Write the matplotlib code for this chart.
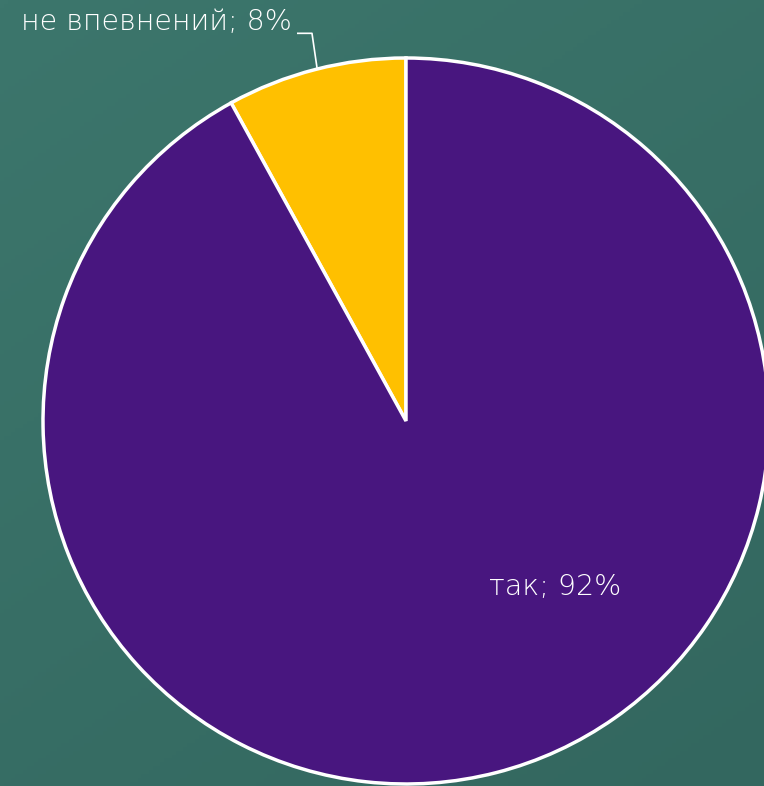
import numpy as np
import matplotlib.pyplot as plt
from matplotlib.colors import LinearSegmentedColormap

labels = ['не впевнений', 'так']
values = [8, 92]
colors = ['#FFC000', '#48167F']

plt.rcParams['font.family'] = ['DejaVu Sans']

fig = plt.figure(figsize=(7.64, 7.86), dpi=100)

# background gradient
bg = fig.add_axes([0, 0, 1, 1])
gx, gy = np.meshgrid(np.linspace(0, 1, 200), np.linspace(0, 1, 200))
grad = 0.6 * gy + 0.4 * (1 - gx)
bg.imshow(grad, cmap=LinearSegmentedColormap.from_list('bg', ['#33675f', '#3c766c']),
          aspect='auto', extent=[0, 1, 0, 1], origin='lower')
bg.axis('off')

# pie axes: centre (406, 421) px, radius 363 px
W, H = 764, 786
cx, cy, r = 406, 421, 363
ax = fig.add_axes([(cx - r) / W, (H - cy - r) / H, 2 * r / W, 2 * r / H])
ax.pie(values, colors=colors, startangle=90, counterclock=True, radius=1,
       wedgeprops=dict(edgecolor='white', linewidth=2.5))
ax.set_xlim(-1, 1)
ax.set_ylim(-1, 1)
ax.axis('off')

ax.text(0.41, -0.457, f'{labels[1]}; {values[1]}%', color='white', fontsize=20.5,
        fontweight='light', ha='center', va='center')
ax.text(-0.314, 1.099, f'{labels[0]}; {values[0]}%', color='white', fontsize=20.5,
        fontweight='light', ha='right', va='center', clip_on=False)
ax.plot([-0.298, -0.259, -0.245], [1.068, 1.068, 0.972], color='white', lw=1.2,
        clip_on=False)

fig.savefig('out.png', dpi=100)
